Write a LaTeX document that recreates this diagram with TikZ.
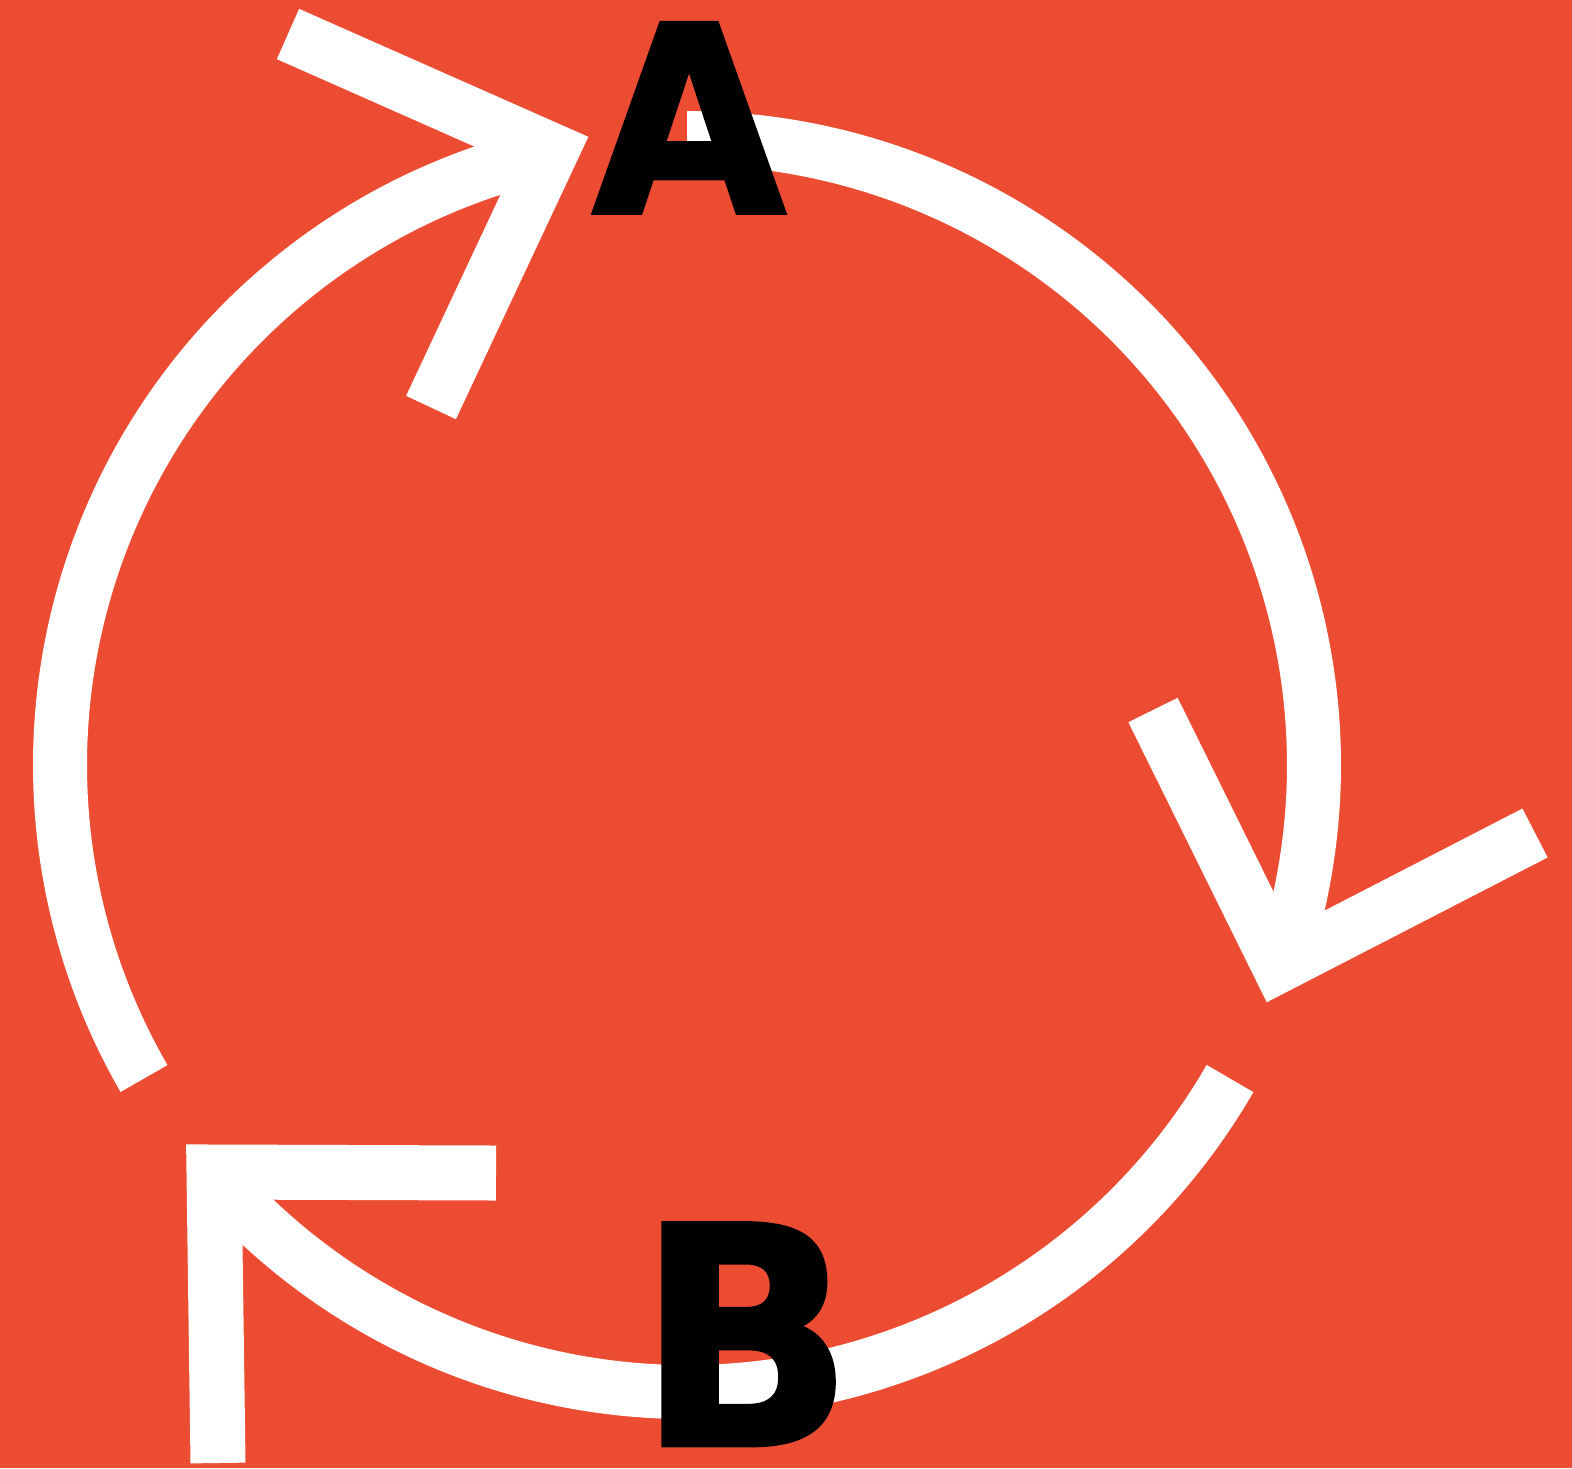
\documentclass[tikz,border=0pt]{standalone}
\usepackage{fontspec}
\usepackage{graphicx}
\newfontfamily\heavyfont{DejaVu Sans Bold}[FakeBold=1.5]
\definecolor{bgred}{HTML}{EB4C32}
\begin{document}
\begin{tikzpicture}[x=0.5pt,y=-0.5pt,
  band/.style={draw=white,line width=27pt,line cap=butt},
  chevron/.style={draw=white,line width=27.5pt,line cap=butt,line join=miter},
  letter/.style={anchor=base,inner sep=0pt,text=black}]
\fill[bgred] (0,0) rectangle (1572,1468);
\useasboundingbox (0,0) rectangle (1572,1468);
\coordinate (O) at (687,765);
\coordinate (s1) at ([shift={(-90:627)}]O);
\coordinate (s2) at ([shift={(30:627)}]O);
\coordinate (s3) at ([shift={(-210:627)}]O);
% arcs
\draw[band] (s1) arc[start angle=-90,end angle=18.7,radius=627];
\draw[band] (s2) arc[start angle=30,end angle=139.3,radius=627];
\draw[band] (s3) arc[start angle=-210,end angle=-102.4,radius=627];
% arrow heads
\coordinate (c1a) at (1153,710);
\coordinate (c1t) at (1279,965);
\coordinate (c1b) at (1535,833);
\coordinate (c2a) at (496,1173);
\coordinate (c2t) at (214,1172);
\coordinate (c2b) at (218,1463);
\coordinate (c3a) at (288,34);
\coordinate (c3t) at (551.5,150.6);
\coordinate (c3b) at (431,407.5);
\draw[chevron] (c1a) -- (c1t) -- (c1b);
\draw[chevron] (c2a) -- (c2t) -- (c2b);
\draw[chevron] (c3a) -- (c3t) -- (c3b);
% letters
\node[letter] (A) at (689,213) {\scalebox{0.945}[0.985]{\resizebox{!}{96.5pt}{\heavyfont A}}};
\node[letter] (B) at (745.5,1445) {\scalebox{0.919}[0.985]{\resizebox{!}{112.5pt}{\heavyfont B}}};
\end{tikzpicture}
\end{document}
